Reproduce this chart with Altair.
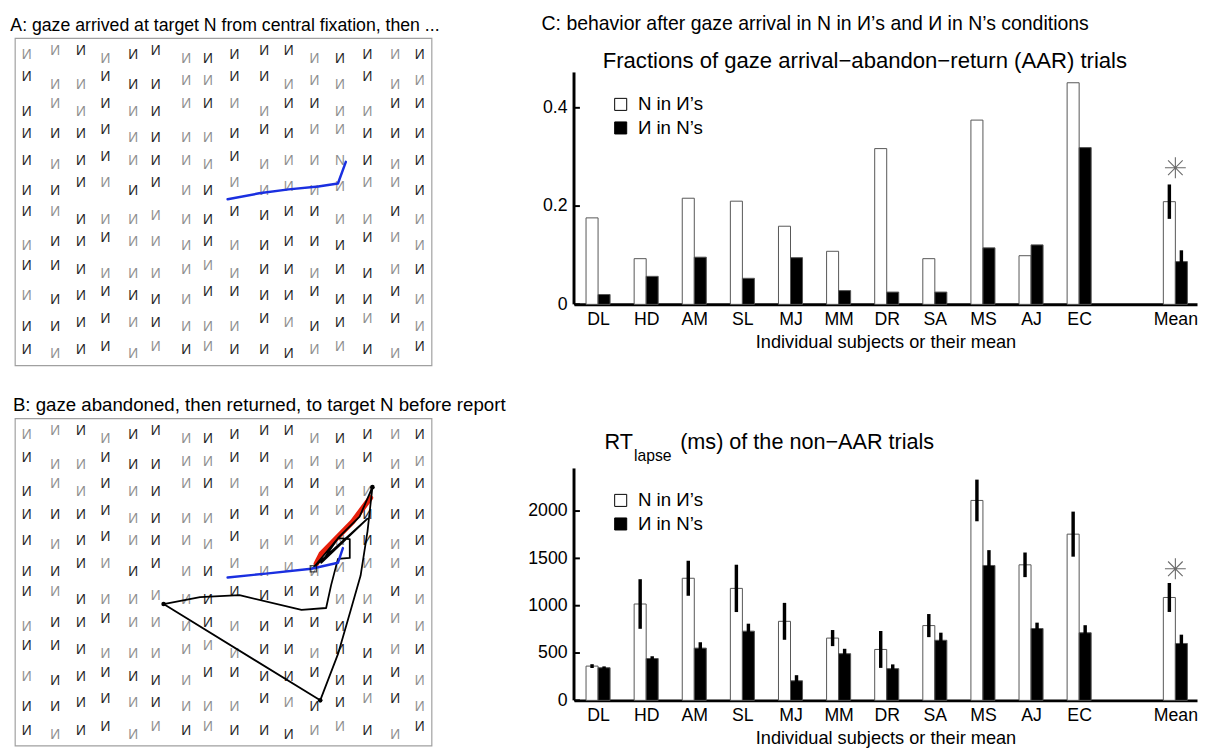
import altair as alt
import pandas as pd

FONT = "Liberation Sans"

# ---------------- Panels A & B: the letter display ----------------
col_x = [12, 41, 67, 92, 120, 143, 174, 196, 223, 253, 278, 304, 330, 358, 386, 411]
row_y = [17, 44, 71, 98, 125, 152, 181, 208, 236, 263, 290, 318]
row_jitter = [
    "muudmuddmuuddmmm",
    "udduddmmuudmdudm",
    "dududduuuduudduu",
    "mmmuddddmumuummm",
    "mdmummmdudmmmmdm",
    "dduududdudmdmuud",
    "uudddmddumuuddud",
    "dmmummdmddmmduud",
    "uumdddmudmmdmdmm",
    "mdmumdduummuddud",
    "ddmummdddumdmuud",
    "mdmudumummdmumdu",
]
row_shade = [
    "ggkgkkgkkkkgkkgk",
    "kggkkkggkkgggkgg",
    "kggkgkgkggkkggkk",
    "kkkkgkggkkkggkkk",
    "kgkkgkggkggggkgk",
    "kkkgkkgkgggggggk",
    "kgkggggkkkkkggkg",
    "gkkkgggkgkkkkkgg",
    "kkkggggggkkgkkgk",
    "gkkkkkgkkkkkkkkg",
    "kkkkgkgggkgkkgkg",
    "kgkkggkgkkkggkgk",
]
distractor = "И"
target_letter = "N"
target_cell = (4, 12)

title_a = "A: gaze arrived at target N from central fixation, then ..."
title_b = "B: gaze abandoned, then returned, to target N before report"

# gaze traces (positions inside the display box)
blue_a_x = [216, 248, 278, 308, 328, 336]
blue_a_y = [164, 158, 154, 151, 148, 126]
blue_b_x = [216, 255, 301, 328, 333]
blue_b_y = [162, 158, 153, 147, 132]
red_b_x = [306, 311, 343, 361]
red_b_y = [148, 138, 105, 81]
black_b_x = [303, 328, 350, 363, 358, 351, 341, 328, 310, 151, 188, 228, 291, 316, 321, 328, 340, 340, 328, 311, 358, 303]
black_b_y = [152, 122, 100, 70, 115, 160, 195, 240, 287, 189, 182, 180, 195, 193, 170, 143, 142, 123, 122, 147, 102, 152]
fix_b_x = [363, 310, 151]
fix_b_y = [70, 287, 189]
start_b_x = [303]
start_b_y = [153]

JIT = {"u": -4, "m": 0, "d": 4}
BOX_W, BOX_H = 423, 333
BOX_PX_W, BOX_PX_H = 424, 333

XS = alt.Scale(domain=[0, BOX_W], nice=False, zero=False)
YS = alt.Scale(domain=[0, BOX_H], nice=False, zero=False, reverse=True)


def letters_layer():
    rows = []
    for r, (jit, shd) in enumerate(zip(row_jitter, row_shade)):
        for c, cx in enumerate(col_x):
            rows.append({
                "x": cx,
                "y": row_y[r] + JIT[jit[c]],
                "shade": shd[c],
                "ch": target_letter if (r, c) == target_cell else distractor,
            })
    df = pd.DataFrame(rows)
    return alt.Chart(df).mark_text(font=FONT, fontSize=14).encode(
        x=alt.X("x:Q", scale=XS, axis=None),
        y=alt.Y("y:Q", scale=YS, axis=None),
        text="ch:N",
        color=alt.Color("shade:N", scale=alt.Scale(domain=["k", "g"], range=["#262626", "#8f8f8f"]), legend=None),
    )


def path_layer(xs, ys, color, width):
    df = pd.DataFrame({"x": xs, "y": ys, "i": list(range(len(xs)))})
    return alt.Chart(df).mark_line(color=color, strokeWidth=width, strokeJoin="round", strokeCap="round").encode(
        x=alt.X("x:Q", scale=XS, axis=None),
        y=alt.Y("y:Q", scale=YS, axis=None),
        order="i:Q",
    )


def points_layer(xs, ys, **kw):
    df = pd.DataFrame({"x": xs, "y": ys})
    return alt.Chart(df).mark_point(**kw).encode(
        x=alt.X("x:Q", scale=XS, axis=None),
        y=alt.Y("y:Q", scale=YS, axis=None),
    )


box_view = alt.ViewBackground(stroke="#a0a0a0", strokeWidth=1.2)
panel_title = dict(anchor="start", font=FONT, fontWeight="normal", color="black", offset=3, dx=-2)

panel_a = alt.layer(
    letters_layer(),
    path_layer(blue_a_x, blue_a_y, "#1a2fe0", 2.5),
).properties(width=BOX_PX_W, height=BOX_PX_H, view=box_view)

panel_b = alt.layer(
    letters_layer(),
    path_layer(red_b_x, red_b_y, "#e8200c", 5.5),
    path_layer(black_b_x, black_b_y, "black", 1.8),
    path_layer(blue_b_x, blue_b_y, "#1a2fe0", 2.5),
    points_layer(fix_b_x, fix_b_y, shape="circle", size=22, filled=True, color="black", opacity=1),
    points_layer(start_b_x, start_b_y, shape="square", size=40, filled=False, color="black", strokeWidth=1.2),
).properties(
    width=BOX_PX_W, height=BOX_PX_H, view=box_view,
    title=alt.TitleParams(title_b, fontSize=19, **panel_title),
)

left = alt.vconcat(panel_a, panel_b, spacing=30, title=alt.TitleParams(title_a, fontSize=18, **panel_title))

# ---------------- Panel C: bar charts ----------------
subjects = ["DL", "HD", "AM", "SL", "MJ", "MM", "DR", "SA", "MS", "AJ", "EC", "Mean"]
subject_pos = [1, 2, 3, 4, 5, 6, 7, 8, 9, 10, 11, 13]
conditions = ["N in И’s", "И in N’s"]

aar_n_in_i = [0.176, 0.093, 0.216, 0.210, 0.159, 0.108, 0.317, 0.093, 0.375, 0.099, 0.451, 0.209]
aar_i_in_n = [0.020, 0.057, 0.096, 0.053, 0.095, 0.028, 0.025, 0.025, 0.115, 0.121, 0.319, 0.087]
aar_n_in_i_se = [None] * 11 + [0.035]
aar_i_in_n_se = [None] * 11 + [0.023]
aar_star = 0.278
aar_ticks = [0, 0.2, 0.4]
aar_ylim = 0.472

rt_n_in_i = [362, 1018, 1290, 1183, 835, 658, 538, 790, 2112, 1432, 1756, 1087]
rt_n_in_i_se = [20, 262, 185, 250, 195, 85, 195, 122, 220, 130, 238, 153]
rt_i_in_n = [345, 442, 552, 731, 207, 493, 335, 635, 1425, 759, 714, 601]
rt_i_in_n_se = [14, 24, 62, 79, 59, 52, 45, 80, 162, 62, 80, 93]
rt_star = 1390
rt_ticks = [0, 500, 1000, 1500, 2000]
rt_ylim = 2450

title_c = "C: behavior after gaze arrival in N in И’s and И in N’s conditions"
title_aar = "Fractions of gaze arrival−abandon−return (AAR) trials"
title_rt_main = "RT"
title_rt_sub = "lapse"
title_rt_rest = "(ms) of the non−AAR trials"
x_title = "Individual subjects or their mean"

BAR_W = 0.25
C_W, C_H = 634, 236
HEAD1 = 35  # room above the first chart's axis for its heading
X_DOMAIN = [0.5, 13.45]

label_arr = [""] * (max(subject_pos) + 1)
for s, p in zip(subjects, subject_pos):
    label_arr[p] = s
label_expr = "[" + ",".join("'" + s + "'" for s in label_arr) + "][datum.value]"

star_path = "M0,-1L0,1M-1,0L1,0M-0.7,-0.7L0.7,0.7M-0.7,0.7L0.7,-0.7"


def bar_panel(a, a_se, b, b_se, star, yticks, ylim, yfmt, head):
    rows = []
    for s, p, v, e in zip(subjects, subject_pos, a, a_se):
        rows.append({"subject": s, "pos": p, "cond": conditions[0], "side": -1, "value": v, "se": e})
    for s, p, v, e in zip(subjects, subject_pos, b, b_se):
        rows.append({"subject": s, "pos": p, "cond": conditions[1], "side": 0, "value": v, "se": e})
    df = pd.DataFrame(rows)

    height = C_H + head
    xscale = alt.Scale(domain=X_DOMAIN, nice=False, zero=False)
    yscale = alt.Scale(domain=[0, ylim * height / C_H], nice=False)

    base = alt.Chart(df).transform_calculate(
        x0=f"datum.pos + datum.side * {BAR_W}",
        x1=f"datum.pos + datum.side * {BAR_W} + {BAR_W}",
        xc=f"datum.pos + datum.side * {BAR_W} + {BAR_W / 2}",
    )
    bars = base.mark_bar(stroke="#555", strokeWidth=1).encode(
        x=alt.X("x0:Q", scale=xscale, title=x_title,
                axis=alt.Axis(values=subject_pos, labelExpr=label_expr, ticks=False, tickSize=0,
                              domainWidth=3, domainColor="black", grid=False,
                              labelFontSize=18, labelPadding=7, labelColor="black",
                              titleFontSize=18.5, titleFontWeight="normal", titlePadding=4, titleColor="black")),
        x2="x1:Q",
        y=alt.Y("value:Q", scale=yscale, title=None,
                axis=alt.Axis(values=yticks, format=yfmt, ticks=False, tickSize=0, domain=False,
                              grid=False, labelFontSize=18, labelPadding=7, labelColor="black")),
        y2=alt.datum(0),
        fill=alt.Fill("cond:N", scale=alt.Scale(domain=conditions, range=["white", "black"]),
                      legend=alt.Legend(title=None, orient="none", legendX=38, legendY=23 + head,
                                        symbolType="square", symbolSize=150, symbolStrokeColor="black",
                                        symbolStrokeWidth=1, labelFontSize=19, labelFont=FONT,
                                        labelColor="black", rowPadding=4, labelOffset=8)),
    )
    errs = base.transform_filter("isValid(datum.se) && datum.se > 0").transform_calculate(
        lo="datum.value - datum.se", hi="datum.value + datum.se"
    ).mark_rule(color="black", strokeWidth=3.5).encode(
        x=alt.X("xc:Q", scale=xscale),
        y=alt.Y("lo:Q", scale=yscale),
        y2="hi:Q",
    )
    stardf = pd.DataFrame({"pos": [subject_pos[-1]], "v": [star]})
    star_mark = alt.Chart(stardf).mark_point(shape=star_path, size=450, filled=False, stroke="#6a6a6a",
                                             strokeWidth=1.1, opacity=1).encode(
        x=alt.X("pos:Q", scale=xscale), y=alt.Y("v:Q", scale=yscale))
    tickdf = pd.DataFrame({"v": yticks})
    ticks = alt.Chart(tickdf).mark_rule(color="black", strokeWidth=2).encode(
        y=alt.Y("v:Q", scale=yscale), x=alt.value(0), x2=alt.value(6))
    axis_line = alt.Chart(pd.DataFrame({"lo": [0], "hi": [ylim]})).mark_rule(
        color="black", strokeWidth=3).encode(y=alt.Y("lo:Q", scale=yscale), y2="hi:Q", x=alt.value(0))
    return [bars, errs, star_mark, ticks, axis_line], height


layers1, h1 = bar_panel(aar_n_in_i, aar_n_in_i_se, aar_i_in_n, aar_i_in_n_se, aar_star, aar_ticks,
                        aar_ylim, "~g", HEAD1)
head1 = alt.Chart(pd.DataFrame({"t": [title_aar]})).mark_text(
    font=FONT, fontSize=22.5, align="center", baseline="alphabetic", color="black").encode(
    text="t:N", x=alt.value(296), y=alt.value(30))
chart_aar = alt.layer(*layers1, head1).properties(width=C_W, height=h1)

layers2, h2 = bar_panel(rt_n_in_i, rt_n_in_i_se, rt_i_in_n, rt_i_in_n_se, rt_star, rt_ticks,
                        rt_ylim, "d", 0)
tdf = pd.DataFrame({"t": [title_rt_main], "s": [title_rt_sub], "r": [title_rt_rest]})
tbase = alt.Chart(tdf)
rt_heads = [
    tbase.mark_text(font=FONT, fontSize=22, align="left", baseline="alphabetic", color="black").encode(
        text="t:N", x=alt.value(31), y=alt.value(-20)),
    tbase.mark_text(font=FONT, fontSize=16, align="left", baseline="alphabetic", color="black").encode(
        text="s:N", x=alt.value(61), y=alt.value(-8)),
    tbase.mark_text(font=FONT, fontSize=22, align="left", baseline="alphabetic", color="black").encode(
        text="r:N", x=alt.value(108), y=alt.value(-20)),
]
chart_rt = alt.layer(*layers2, *rt_heads).properties(width=C_W, height=h2)

right = alt.vconcat(
    chart_aar, chart_rt, spacing=81,
    title=alt.TitleParams(title_c, anchor="start", fontSize=19.8, font=FONT, fontWeight="normal",
                          color="black", offset=4, dx=14),
).resolve_scale(fill="independent").resolve_legend(fill="independent")

chart = alt.hconcat(left, right, spacing=20).properties(
    padding={"left": 2, "top": 0, "right": 0, "bottom": 0}
).configure_view(strokeWidth=0).configure_axis(
    labelFont=FONT, titleFont=FONT
).configure_title(font=FONT)

chart.save("out.html", embed_options={"renderer": "svg", "actions": False})
